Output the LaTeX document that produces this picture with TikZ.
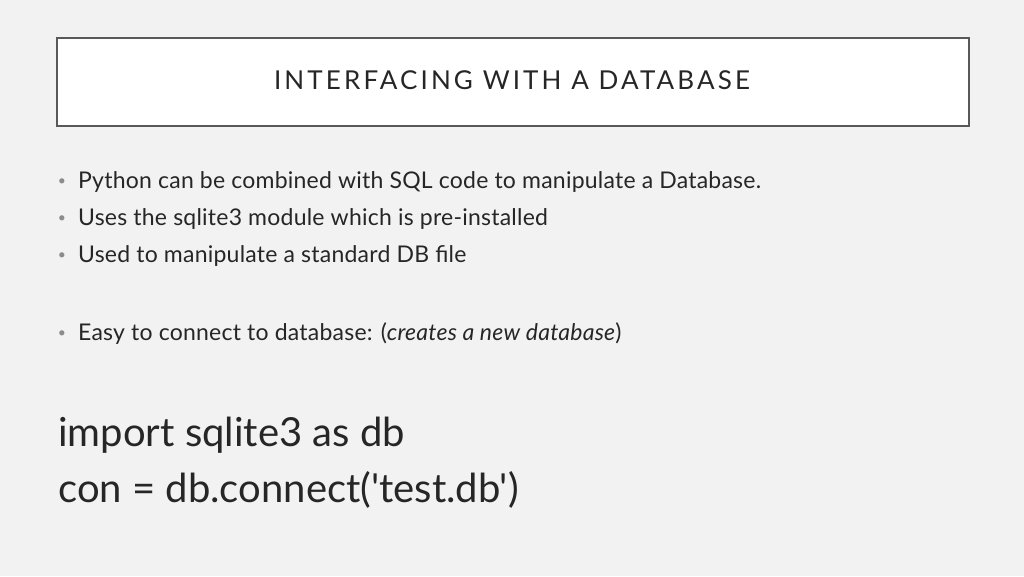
\documentclass[tikz,border=0pt]{standalone}
\usepackage{fontspec}
\setmainfont{Lato}
\newfontfamily\plainfont{Lato}
\definecolor{bg}{HTML}{F2F2F2}
\definecolor{txt}{HTML}{262626}
\definecolor{bul}{HTML}{8C8C8C}
\definecolor{frame}{HTML}{595959}
\begin{document}
\begin{tikzpicture}[x=1pt,y=-1pt,
  bullettext/.style={anchor=west,inner sep=0pt,text=txt,font=\fontsize{23}{26}\selectfont\addfontfeatures{LetterSpace=1}},
  dot/.style={anchor=center,inner sep=0pt,text=bul,font=\fontsize{14}{16}\selectfont},
  code/.style={anchor=west,inner sep=0pt,text=txt,font=\plainfont\fontsize{40}{46}\selectfont}]
\fill[bg] (0,0) rectangle (1024,576);
\useasboundingbox (0,0) rectangle (1024,576);
\draw[frame,line width=2pt,fill=white] (57,38) rectangle (969,126);
\node[inner sep=0pt,text=txt,font=\fontsize{26}{28}\selectfont] (title) at (512,80) {\addfontfeatures{LetterSpace=12}INTERFACING WITH A DATABASE};
\node[dot] (d1) at (62,182) {•};
\node[bullettext] (b1) at (78,182) {Python can be combined with SQL code to manipulate a Database.};
\node[dot] (d2) at (62,219) {•};
\node[bullettext] (b2) at (78,219) {Uses the sqlite3 module which is pre-installed};
\node[dot] (d3) at (62,256) {•};
\node[bullettext] (b3) at (78,256) {Used to manipulate a standard DB file};
\node[dot] (d4) at (62,334) {•};
\node[bullettext] (b4) at (78,334) {Easy to connect to database: (\textit{creates a new database})};
\node[code] (c1) at (58,435) {import sqlite3 as db};
\node[code] (c2) at (58,490) {con = db.connect('test.db')};
\end{tikzpicture}
\end{document}
